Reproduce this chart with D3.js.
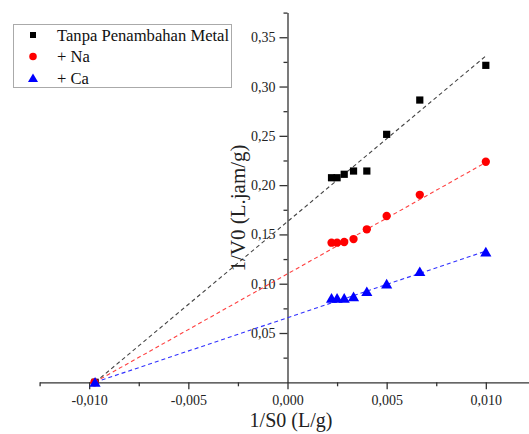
<!DOCTYPE html>
<html>
<head>
<meta charset="utf-8">
<script src="https://cdn.jsdelivr.net/npm/d3@7/dist/d3.min.js"></script>
<style>
  body { margin: 0; background: #fff; }
  text { font-family: "Liberation Serif", "Times New Roman", serif; }
</style>
</head>
<body>
<div id="chart"></div>
<script>
(function() {

    var width = 529;
    var height = 434;

    // 1/S0 values
    var xValues = [0.00222, 0.0025, 0.00286, 0.00333, 0.004, 0.005, 0.00667, 0.010];
    var seriesNames = ["Tanpa Penambahan Metal", "+ Na", "+ Ca"];
    var tanpaValues = [0.2075, 0.2075, 0.211, 0.2143, 0.2143, 0.2515, 0.2863, 0.3215];
    var naValues = [0.1416, 0.1416, 0.1423, 0.1453, 0.1552, 0.1687, 0.1902, 0.2237];
    var caValues = [0.0852, 0.0852, 0.0852, 0.0868, 0.0919, 0.0997, 0.1122, 0.1321];
    // linear fits (intercept at x=0, slope)
    var fitIntercepts = [0.163, 0.110, 0.0655];
    var fitSlopes = [16.8, 11.3, 6.75];
    var fitEnd = 0.010;

    var xMajor = [-0.010, -0.005, 0, 0.005, 0.010];
    var xMinor = [-0.0125, -0.0075, -0.0025, 0.0025, 0.0075, 0.0125];
    var yMajor = [0.05, 0.10, 0.15, 0.20, 0.25, 0.30, 0.35];
    var yMinor = [0.025, 0.075, 0.125, 0.175, 0.225, 0.275, 0.325, 0.375];

    var colors = ["#000000", "#ff0000", "#0000ff"];
    var lineColors = ["#444444", "#ff4040", "#3030ff"];
    var symbols = [d3.symbolSquare, d3.symbolCircle, d3.symbolTriangle];
    var symbolSizes = [52, 54, 54];

    var svg = d3.select("#chart")
        .append("svg")
        .attr("width", width)
        .attr("height", height)
        .style("background", "#fff");

    var x = d3.scaleLinear().domain([-0.0125, 0.0125]).range([39.6, 535.4]);
    var y = d3.scaleLinear().domain([0, 0.375]).range([382.3, 12.6]);

    var comma = function(fmt) {
        return function(d) { return d3.format(fmt)(d).replace("\u2212", "-").replace(".", ","); };
    };

    // x axis (through y = 0)
    svg.append("g")
        .attr("transform", "translate(0," + y(0) + ")")
        .call(d3.axisBottom(x).tickValues(xMinor).tickSize(4).tickSizeOuter(0).tickFormat(""))
        .call(g => g.select(".domain").remove());

    var xAxis = svg.append("g")
        .attr("transform", "translate(0," + y(0) + ")")
        .call(d3.axisBottom(x).tickValues(xMajor).tickSize(7).tickSizeOuter(0).tickPadding(6).tickFormat(comma(".3f")));
    xAxis.selectAll("text").attr("font-size", 14).attr("fill", "#222")
        .style("font-family", "'Liberation Serif', serif");

    // y axis (through x = 0)
    svg.append("g")
        .attr("transform", "translate(" + x(0) + ",0)")
        .call(d3.axisLeft(y).tickValues(yMinor).tickSize(4).tickSizeOuter(0).tickFormat(""))
        .call(g => g.select(".domain").remove());

    var yAxis = svg.append("g")
        .attr("transform", "translate(" + x(0) + ",0)")
        .call(d3.axisLeft(y).tickValues(yMajor).tickSize(8).tickSizeOuter(0).tickPadding(4).tickFormat(comma(".2f")));
    yAxis.selectAll("text").attr("font-size", 14).attr("fill", "#222")
        .style("font-family", "'Liberation Serif', serif");

    svg.selectAll(".domain, .tick line").attr("stroke", "#333").attr("stroke-width", 1.3);

    // fit lines
    var series = [tanpaValues, naValues, caValues].map(function(vals, i) {
        var x0 = -fitIntercepts[i] / fitSlopes[i];
        return {
            name: seriesNames[i],
            x0: x0,
            points: [{ x: x0, y: 0 }].concat(vals.map(function(v, j) { return { x: xValues[j], y: v }; })),
            line: [x0, fitEnd].map(function(xv) { return { x: xv, y: fitIntercepts[i] + fitSlopes[i] * xv }; })
        };
    });

    var line = d3.line().x(d => x(d.x)).y(d => y(d.y));

    svg.selectAll(".fit")
        .data(series)
        .enter().append("path")
        .attr("class", "fit")
        .attr("d", d => line(d.line))
        .attr("fill", "none")
        .attr("stroke", (d, i) => lineColors[i])
        .attr("stroke-width", 1.1)
        .attr("stroke-dasharray", "4,3");

    series.forEach(function(s, i) {
        svg.append("g").selectAll("path")
            .data(s.points)
            .enter().append("path")
            .attr("d", d3.symbol().type(symbols[i]).size(symbolSizes[i]))
            .attr("transform", d => "translate(" + x(d.x) + "," + (y(d.y) + (i === 2 ? 1.2 : 0)) + ")")
            .attr("fill", colors[i]);
    });

    // axis titles
    svg.append("text")
        .attr("x", 291)
        .attr("y", 427)
        .attr("text-anchor", "middle")
        .attr("font-size", 20)
        .attr("fill", "#222")
        .text("1/S0 (L/g)");

    svg.append("text")
        .attr("transform", "translate(245,208) rotate(-90)")
        .attr("text-anchor", "middle")
        .attr("font-size", 21)
        .attr("fill", "#222")
        .text("1/V0 (L.jam/g)");

    // legend
    var legend = svg.append("g");
    legend.append("rect")
        .attr("x", 13.5)
        .attr("y", 24.5)
        .attr("width", 218)
        .attr("height", 63)
        .attr("fill", "#fff")
        .attr("stroke", "#aaa")
        .attr("stroke-width", 1);

    var rows = legend.selectAll(".row")
        .data(seriesNames)
        .enter().append("g")
        .attr("transform", (d, i) => "translate(33," + (35 + i * 21.6) + ")");

    rows.append("path")
        .attr("d", (d, i) => d3.symbol().type(symbols[i]).size([36, 44, 44][i])())
        .attr("transform", (d, i) => i === 2 ? "translate(0,1)" : null)
        .attr("fill", (d, i) => colors[i]);

    rows.append("text")
        .attr("x", 24)
        .attr("y", 5.5)
        .attr("font-size", 16.6)
        .attr("fill", "#111")
        .text(d => d);

})();
</script>
</body>
</html>
